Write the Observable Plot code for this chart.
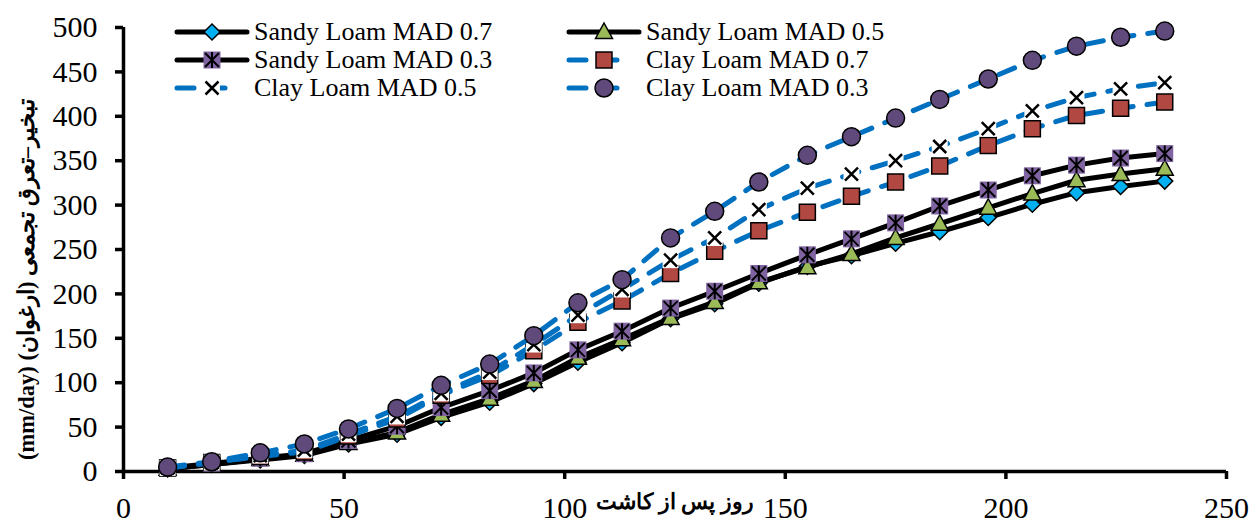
<!DOCTYPE html>
<html>
<head>
<meta charset="utf-8">
<script src="https://cdn.jsdelivr.net/npm/d3@7"></script>
<script src="https://cdn.jsdelivr.net/npm/@observablehq/plot@0.6"></script>
<style>
  html, body { margin: 0; padding: 0; background: #fff; }
  #chart { position: relative; width: 1250px; height: 523px; overflow: hidden; }
  #chart svg { position: absolute; left: 0; top: 0; }
</style>
</head>
<body>
<div id="chart"></div>
<script>
// Days after planting
const days = [10, 20, 31, 41, 51, 62, 72, 83, 93, 103, 113, 124, 134, 144, 155, 165, 175, 185, 196, 206, 216, 226, 236];

// Cumulative evapotranspiration (mm) for each soil / MAD treatment
const sandyLoam07 = [3, 8, 13, 18, 31, 42, 61, 78, 99, 123, 145, 172, 189, 212, 231, 243, 257, 270, 286, 301, 314, 321, 327];
const sandyLoam05 = [3, 8, 14, 19, 32, 44, 64, 82, 102, 128, 149, 173, 191, 213, 230, 245, 263, 279, 297, 313, 328, 335, 341];
const sandyLoam03 = [4, 9, 15, 20, 35, 51, 72, 91, 111, 137, 158, 184, 203, 223, 244, 262, 280, 299, 317, 333, 345, 353, 358];
const clayLoam07  = [4, 10, 17, 22, 40, 59, 86, 108, 136, 168, 192, 223, 248, 271, 292, 310, 326, 344, 367, 386, 401, 409, 416];
const clayLoam05  = [4, 10, 18, 24, 42, 62, 88, 112, 143, 176, 205, 238, 263, 295, 319, 335, 350, 366, 386, 406, 421, 431, 438];
const clayLoam03  = [5, 11, 21, 31, 48, 71, 97, 121, 153, 190, 216, 263, 293, 326, 356, 377, 398, 419, 442, 463, 479, 489, 496];

const seriesNames = [
  "Sandy Loam MAD 0.7", "Sandy Loam MAD 0.5", "Sandy Loam MAD 0.3",
  "Clay Loam MAD 0.7", "Clay Loam MAD 0.5", "Clay Loam MAD 0.3"
];
const seriesValues = [sandyLoam07, sandyLoam05, sandyLoam03, clayLoam07, clayLoam05, clayLoam03];

const xTicks = [0, 50, 100, 150, 200, 250];
const yTicks = [0, 50, 100, 150, 200, 250, 300, 350, 400, 450, 500];

const xTitle = "روز پس از کاشت";
const yTitle = "تبخیر–تعرق تجمعی (ارغوان) (mm/day)";

const SERIF = "'Times New Roman', 'Liberation Serif', Tinos, 'DejaVu Serif', serif";

// ---- marker shapes (fixed pixel size, size argument ignored) ----
const shape = fn => ({ draw(ctx) { fn(ctx); } });
const diamond  = shape(c => { c.moveTo(0, -8); c.lineTo(8, 0); c.lineTo(0, 8); c.lineTo(-8, 0); c.closePath(); });
const triangle = shape(c => { c.moveTo(0, -9); c.lineTo(8.5, 6.5); c.lineTo(-8.5, 6.5); c.closePath(); });
const box = h => shape(c => { c.moveTo(-h, -h); c.lineTo(h, -h); c.lineTo(h, h); c.lineTo(-h, h); c.closePath(); });
const asterisk = shape(c => { c.moveTo(0, -8); c.lineTo(0, 8); c.moveTo(-7, -7); c.lineTo(7, 7); c.moveTo(7, -7); c.lineTo(-7, 7); });
const cross    = shape(c => { c.moveTo(-6.5, -6.5); c.lineTo(6.5, 6.5); c.moveTo(6.5, -6.5); c.lineTo(-6.5, 6.5); });
const disc     = shape(c => { c.moveTo(9, 0); c.arc(0, 0, 9, 0, 2 * Math.PI); c.closePath(); });

const BLUE = "#0070C0";
const styles = [
  { line: { stroke: "#000", strokeWidth: 5 }, markers: [{ symbol: diamond, fill: "#00B0F0", stroke: "#000", strokeWidth: 1.5 }] },
  { line: { stroke: "#000", strokeWidth: 5 }, markers: [{ symbol: triangle, fill: "#9BBB59", stroke: "#000", strokeWidth: 1.5 }] },
  { line: { stroke: "#000", strokeWidth: 5 }, markers: [
      { symbol: box(8.5), fill: "#8064A2", stroke: "none" },
      { symbol: asterisk, fill: "none", stroke: "#000", strokeWidth: 2 }] },
  { line: { stroke: BLUE, strokeWidth: 5, strokeDasharray: "17,14" }, markers: [{ symbol: box(8), fill: "#B14842", stroke: "#000", strokeWidth: 1.5 }] },
  { line: { stroke: BLUE, strokeWidth: 5, strokeDasharray: "17,14" }, markers: [
      { symbol: box(8), fill: "#fff", stroke: "none" },
      { symbol: cross, fill: "none", stroke: "#000", strokeWidth: 2.5 }] },
  { line: { stroke: BLUE, strokeWidth: 5, strokeDasharray: "17,14" }, markers: [{ symbol: disc, fill: "#604A7B", stroke: "#000", strokeWidth: 1.5 }] }
];

const rows = seriesNames.map((name, i) => days.map((d, j) => ({ series: name, day: d, value: seriesValues[i][j] })));

const seriesMarks = rows.flatMap((data, i) => [
  Plot.line(data, { x: "day", y: "value", ...styles[i].line, strokeLinecap: "round", strokeLinejoin: "round" }),
  ...styles[i].markers.map(m => Plot.dot(data, { x: "day", y: "value", ...m }))
]);

const plot = Plot.plot({
  width: 1250,
  height: 523,
  marginLeft: 123,
  marginRight: 24,
  marginTop: 27,
  marginBottom: 52,
  style: { fontFamily: SERIF, color: "#000", background: "#fff", overflow: "visible" },
  x: { domain: [0, 250] },
  y: { domain: [0, 500] },
  marks: [
    Plot.axisY(yTicks, { tickSize: 8, tickPadding: 18, strokeWidth: 3.5, fontSize: 30, fontFamily: SERIF, label: null, tickFormat: d => String(d) }),
    Plot.axisX(xTicks, { tickSize: 8, tickPadding: 17, strokeWidth: 3.5, fontSize: 30, fontFamily: SERIF, label: null, tickFormat: d => String(d) }),
    Plot.ruleX([0], { stroke: "#000", strokeWidth: 3.5 }),
    Plot.ruleY([0], { stroke: "#000", strokeWidth: 3.5 }),
    ...seriesMarks,
    Plot.text([xTitle], { frameAnchor: "bottom", dy: 37, fontSize: 21.5, fontWeight: "bold",
      fontFamily: SERIF, textAnchor: "middle" }),
    Plot.text([yTitle], { frameAnchor: "left", dx: -97, dy: 30, rotate: -90, fontSize: 22.5, fontWeight: "bold",
      fontFamily: SERIF, textAnchor: "middle" })
  ]
});

// make the y title lay out right-to-left
d3.select(plot).selectAll("text").filter(function () { return this.textContent === yTitle; })
  .attr("direction", "rtl").attr("unicode-bidi", "embed");

const chart = document.getElementById("chart");
chart.appendChild(plot);

// ---- legend drawn over the upper part of the plot area ----
const legend = d3.create("svg")
  .attr("width", 1250).attr("height", 523)
  .style("pointer-events", "none");

const colX = [177, 569];
const rowY = [32, 60, 88];
const pathOf = s => { const p = d3.path(); s.draw(p, 0); return p.toString(); };

seriesNames.forEach((name, i) => {
  const col = i % 2, row = Math.floor(i / 2);
  const x0 = colX[col], y0 = rowY[row];
  const st = styles[i];
  const g = legend.append("g");
  const dashed = !!st.line.strokeDasharray;
  g.append("line")
    .attr("x1", x0).attr("x2", x0 + (dashed ? 56 : 70))
    .attr("y1", y0).attr("y2", y0)
    .attr("stroke", st.line.stroke).attr("stroke-width", st.line.strokeWidth)
    .attr("stroke-dasharray", st.line.strokeDasharray || null)
    .attr("stroke-linecap", "round");
  st.markers.forEach(m => {
    g.append("path")
      .attr("d", pathOf(m.symbol))
      .attr("transform", `translate(${x0 + 35},${y0})`)
      .attr("fill", m.fill).attr("stroke", m.stroke).attr("stroke-width", m.strokeWidth || 0);
  });
  g.append("text")
    .attr("x", x0 + 77).attr("y", y0 + 8)
    .attr("font-family", SERIF).attr("font-size", 26)
    .attr("fill", "#000")
    .text(name);
});

chart.appendChild(legend.node());
</script>
</body>
</html>
